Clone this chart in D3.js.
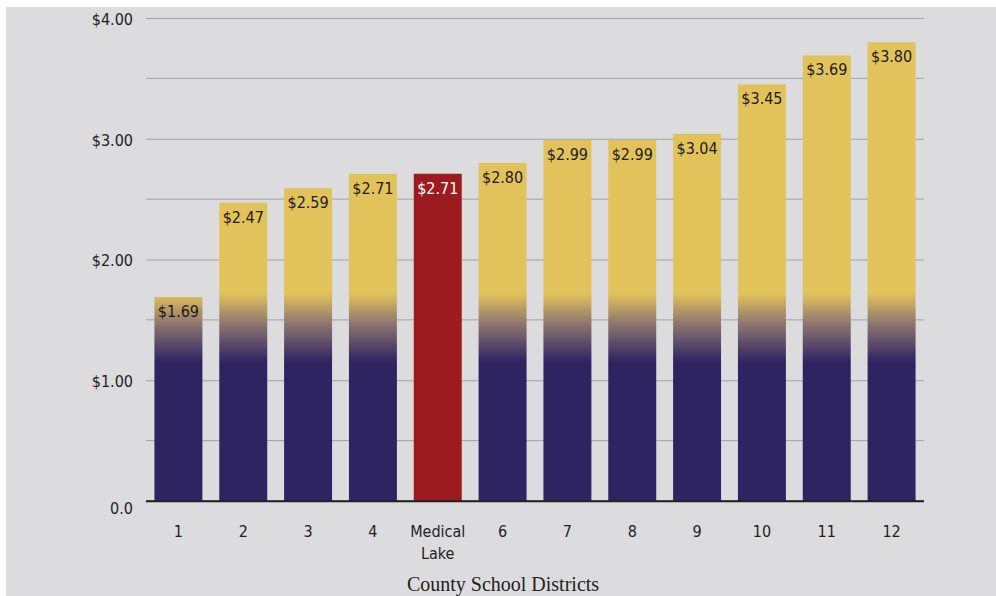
<!DOCTYPE html>
<html>
<head>
<meta charset="utf-8">
<script src="https://cdn.jsdelivr.net/npm/d3@7"></script>
<style>
  body { margin: 0; background: #fff; }
  svg { display: block; }
</style>
</head>
<body>
<svg></svg>
<script>
  const districts = ['1', '2', '3', '4', 'Medical Lake', '6', '7', '8', '9', '10', '11', '12']
  const values = [1.69, 2.47, 2.59, 2.71, 2.71, 2.80, 2.99, 2.99, 3.04, 3.45, 3.69, 3.80]
  const yTicks = [0, 1, 2, 3, 4]
  const yTickLabels = ['0.0', '$1.00', '$2.00', '$3.00', '$4.00']
  const minorTicks = [0.5, 1.5, 2.5, 3.5]
  const highlight = 'Medical Lake'

  const width = 996
  const height = 596
  const margin = { top: 18, right: 72, bottom: 95, left: 146 }
  const innerWidth = width - margin.left - margin.right
  const innerHeight = height - margin.top - margin.bottom
  const narrow = '"DejaVu Sans Condensed", "Liberation Sans Narrow", sans-serif'

  const svg = d3.select('svg').attr('width', width).attr('height', height)

  svg.append('rect').
    attr('x', 6).attr('y', 7).
    attr('width', width - 6).attr('height', height - 7).
    attr('fill', '#dcdcde')

  const x = d3.scaleBand().domain(districts).range([0, innerWidth]).paddingInner(0.26).paddingOuter(0.13)
  const y = d3.scaleLinear().domain([0, 4]).range([innerHeight, 0])

  const g = svg.append('g').attr('transform', `translate(${margin.left},${margin.top})`)

  // gradient fixed in chart space so all bars blend at the same height
  const grad = svg.append('defs').append('linearGradient').
    attr('id', 'fade').
    attr('gradientUnits', 'userSpaceOnUse').
    attr('x1', 0).attr('x2', 0).
    attr('y1', y(1.72)).attr('y2', y(1.15))
  grad.append('stop').attr('offset', 0).attr('stop-color', '#e2c35b')
  grad.append('stop').attr('offset', 0.45).attr('stop-color', '#8d7470')
  grad.append('stop').attr('offset', 1).attr('stop-color', '#2d2461')

  g.selectAll('line.minor').data(minorTicks).
    enter().append('line').
    attr('class', 'minor').
    attr('x1', 0).attr('x2', innerWidth).
    attr('y1', d => y(d)).attr('y2', d => y(d)).
    attr('stroke', '#a3a3a5').attr('stroke-width', 1)

  const yAxis = g.append('g').
    call(d3.axisLeft(y).tickValues(yTicks).tickSize(-innerWidth).tickFormat((d, i) => yTickLabels[i]))
  yAxis.select('.domain').remove()
  yAxis.selectAll('.tick line').attr('stroke', d => d === 0 ? '#222' : '#a3a3a5').attr('stroke-width', d => d === 0 ? 1.6 : 1)
  yAxis.selectAll('.tick text').
    attr('x', -13).attr('dy', d => d === 0 ? '0.75em' : '0.4em').
    attr('fill', '#222').
    style('font-family', narrow).style('font-stretch', 'condensed').
    style('font-size', '16px').style('font-weight', 500)

  g.selectAll('rect.bar').data(districts).
    enter().append('rect').
    attr('class', 'bar').
    attr('x', d => x(d)).
    attr('width', x.bandwidth()).
    attr('y', (d, i) => y(values[i])).
    attr('height', (d, i) => innerHeight - y(values[i])).
    attr('fill', d => d === highlight ? '#9b1b1f' : 'url(#fade)')

  // redraw zero line over bars
  g.append('line').
    attr('x1', 0).attr('x2', innerWidth).
    attr('y1', y(0)).attr('y2', y(0)).
    attr('stroke', '#222').attr('stroke-width', 1.6)

  g.selectAll('text.val').data(districts).
    enter().append('text').
    attr('class', 'val').
    attr('x', d => x(d) + x.bandwidth() / 2).
    attr('y', (d, i) => y(values[i]) + 20).
    attr('text-anchor', 'middle').
    attr('fill', d => d === highlight ? '#fff' : '#1e1a1a').
    style('font-family', narrow).style('font-stretch', 'condensed').
    style('font-size', '16px').style('font-weight', 500).
    text((d, i) => '$' + values[i].toFixed(2))

  const xLabels = g.selectAll('text.cat').data(districts).
    enter().append('text').
    attr('class', 'cat').
    attr('x', d => x(d) + x.bandwidth() / 2).
    attr('y', innerHeight + 36).
    attr('text-anchor', 'middle').
    attr('fill', '#222').
    style('font-family', narrow).style('font-stretch', 'condensed').
    style('font-size', '16px').style('font-weight', 500)
  xLabels.selectAll('tspan').data(d => d.split(' ')).
    enter().append('tspan').
    attr('x', function () { return d3.select(this.parentNode).attr('x') }).
    attr('dy', (d, i) => i === 0 ? 0 : 22).
    text(d => d)

  g.append('text').
    attr('x', innerWidth / 2 - 32).
    attr('y', innerHeight + 90).
    attr('text-anchor', 'middle').
    attr('fill', '#222').
    style('font-family', '"Liberation Serif", serif').style('font-size', '20px').
    text('County School Districts')
</script>
</body>
</html>
